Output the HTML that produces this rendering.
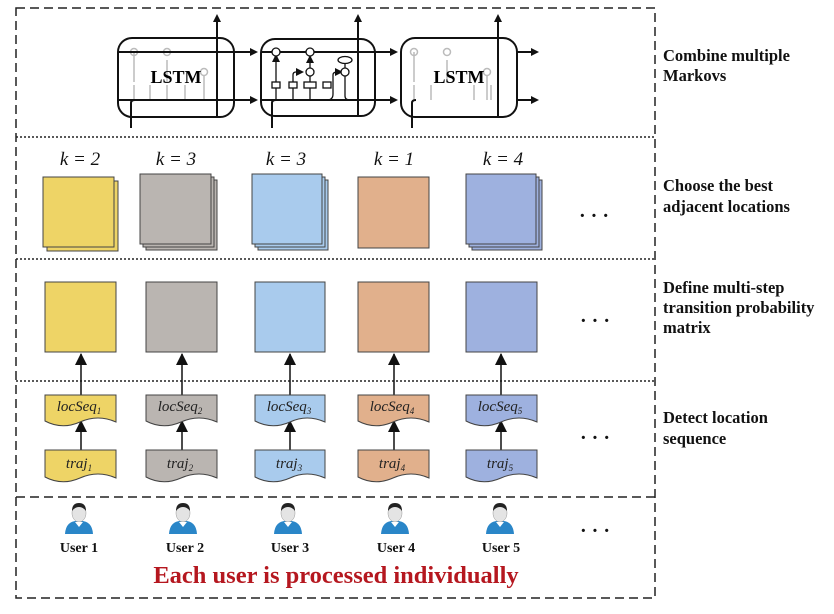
<!DOCTYPE html>
<html><head><meta charset="utf-8"><style>
body{margin:0;background:#fff;}
svg{display:block;}
.lbl{font-family:"Liberation Serif",serif;font-weight:bold;font-size:16.5px;fill:#111;}
.k{font-family:"Liberation Serif",serif;font-style:italic;font-size:19px;fill:#111;}
.it{font-family:"Liberation Serif",serif;font-style:italic;font-size:15px;fill:#222;}
.u{font-family:"Liberation Serif",serif;font-weight:bold;font-size:14px;fill:#111;}
.dots{font-family:"Liberation Serif",serif;font-size:20px;fill:#111;font-weight:bold;}
</style></head><body>
<svg width="834" height="614" viewBox="0 0 834 614" xmlns="http://www.w3.org/2000/svg">
<defs>
<marker id="ar" markerWidth="8" markerHeight="8" refX="6" refY="4" orient="auto" markerUnits="userSpaceOnUse"><path d="M0,0 L8,4 L0,8z" fill="#111"/></marker>
<marker id="ar2" markerWidth="12" markerHeight="14" refX="11" refY="6" orient="auto" markerUnits="userSpaceOnUse"><path d="M0,0 L12,6 L0,12z" fill="#111"/></marker>
<g id="user">
<path d="M-14,12 Q-13,-2 0,-1 Q13,-2 14,12z" fill="#2a86c8"/>
<ellipse cx="0" cy="-9" rx="7" ry="9" fill="#e4e4e4" stroke="#999" stroke-width="0.5"/>
<path d="M-7,-11 Q-7,-19 0,-19 Q7,-19 7,-11 Q4,-15 0,-15 Q-4,-15 -7,-11z" fill="#222"/>
<path d="M-4,0 L0,5 L4,0z" fill="#fff"/>
</g>
</defs>
<path d="M16,8 H655 V598 H16 Z" fill="none" stroke="#222" stroke-width="1.5" stroke-dasharray="9,5"/>
<line x1="16" y1="137" x2="655" y2="137" stroke="#222" stroke-width="1.5" stroke-dasharray="2,2"/>
<line x1="16" y1="259" x2="655" y2="259" stroke="#222" stroke-width="1.5" stroke-dasharray="2,2"/>
<line x1="16" y1="381" x2="655" y2="381" stroke="#222" stroke-width="1.5" stroke-dasharray="2,2"/>
<line x1="16" y1="497" x2="655" y2="497" stroke="#222" stroke-width="1.5" stroke-dasharray="9,5"/>

<g fill="none" stroke="#bbb" stroke-width="1.5">
<line x1="134" y1="100" x2="134" y2="85"/><line x1="150" y1="100" x2="150" y2="85"/><line x1="167" y1="100" x2="167" y2="85"/><line x1="185" y1="100" x2="185" y2="85"/>
<line x1="134" y1="82" x2="134" y2="52"/><line x1="167" y1="82" x2="167" y2="60"/>
<line x1="474" y1="100" x2="474" y2="85"/><line x1="491" y1="100" x2="491" y2="85"/><line x1="431" y1="100" x2="431" y2="85"/><line x1="414" y1="100" x2="414" y2="85"/>
<line x1="414" y1="82" x2="414" y2="52"/><line x1="447" y1="82" x2="447" y2="60"/>
<line x1="204" y1="76" x2="204" y2="100"/><line x1="487" y1="76" x2="487" y2="100"/>
<circle cx="134" cy="52" r="3.5"/><circle cx="167" cy="52" r="3.5"/><circle cx="204" cy="72" r="3.5"/>
<circle cx="414" cy="52" r="3.5"/><circle cx="447" cy="52" r="3.5"/><circle cx="487" cy="72" r="3.5"/>
</g>
<g fill="none" stroke="#111" stroke-width="2">
<rect x="118" y="38" width="116" height="79" rx="14"/>
<rect x="261" y="39" width="114" height="77" rx="14"/>
<rect x="401" y="38" width="116" height="79" rx="14"/>
<line x1="118" y1="52" x2="256" y2="52" marker-end="url(#ar)"/>
<line x1="118" y1="100" x2="256" y2="100" marker-end="url(#ar)"/>
<line x1="261" y1="52" x2="396" y2="52" marker-end="url(#ar)"/>
<line x1="261" y1="100" x2="396" y2="100" marker-end="url(#ar)"/>
<line x1="517" y1="52" x2="537" y2="52" marker-end="url(#ar)"/>
<line x1="517" y1="100" x2="537" y2="100" marker-end="url(#ar)"/>
<line x1="217" y1="117" x2="217" y2="16" marker-end="url(#ar)"/>
<line x1="358" y1="116" x2="358" y2="16" marker-end="url(#ar)"/>
<line x1="498" y1="117" x2="498" y2="16" marker-end="url(#ar)"/>
<path d="M131,128 V103 Q131,100 135,100"/>
<path d="M272,128 V103 Q272,100 276,100"/>
<path d="M412,128 V103 Q412,100 416,100"/>
</g>
<g fill="none" stroke="#111" stroke-width="1.3">
<line x1="276" y1="100" x2="276" y2="56" marker-end="url(#ar)"/>
<path d="M293,100 V75 Q293,72 296,72 H302" marker-end="url(#ar)"/>
<line x1="310" y1="100" x2="310" y2="57" marker-end="url(#ar)"/>
<path d="M327,100 Q333,100 333,94 V75 Q333,72 337,72 H341" marker-end="url(#ar)"/>
<path d="M345,76 V96 Q345,100 350,100 H358"/>
<line x1="345" y1="56" x2="345" y2="68"/>
<circle cx="276" cy="52" r="4" fill="#fff"/><circle cx="310" cy="52" r="4" fill="#fff"/>
<circle cx="310" cy="72" r="4" fill="#fff"/><circle cx="345" cy="72" r="4" fill="#fff"/>
<ellipse cx="345" cy="60" rx="7" ry="3.5" fill="#fff"/>
<rect x="272" y="82" width="8" height="6" fill="#fff"/><rect x="289" y="82" width="8" height="6" fill="#fff"/>
<rect x="304" y="82" width="12" height="6" fill="#fff"/><rect x="323" y="82" width="8" height="6" fill="#fff"/>
</g>
<text x="176" y="83" text-anchor="middle" style="font-family:'Liberation Serif',serif;font-weight:bold;font-size:18px">LSTM</text>
<text x="459" y="83" text-anchor="middle" style="font-family:'Liberation Serif',serif;font-weight:bold;font-size:18px">LSTM</text>

<text class="k" x="80" y="165" text-anchor="middle">k = 2</text>
<text class="k" x="176" y="165" text-anchor="middle">k = 3</text>
<text class="k" x="286" y="165" text-anchor="middle">k = 3</text>
<text class="k" x="394" y="165" text-anchor="middle">k = 1</text>
<text class="k" x="503" y="165" text-anchor="middle">k = 4</text>

<g stroke="#444" stroke-width="1">
<rect x="47" y="181" width="71" height="70" fill="#eed466"/>
<rect x="43" y="177" width="71" height="70" fill="#eed466"/>
<rect x="146" y="180" width="71" height="70" fill="#bab5b1"/>
<rect x="143" y="177" width="71" height="70" fill="#bab5b1"/>
<rect x="140" y="174" width="71" height="70" fill="#bab5b1"/>
<rect x="258" y="180" width="70" height="70" fill="#a9cbed"/>
<rect x="255" y="177" width="70" height="70" fill="#a9cbed"/>
<rect x="252" y="174" width="70" height="70" fill="#a9cbed"/>
<rect x="358" y="177" width="71" height="71" fill="#e1b08c"/>
<rect x="472" y="180" width="70" height="70" fill="#9eb1df"/>
<rect x="469" y="177" width="70" height="70" fill="#9eb1df"/>
<rect x="466" y="174" width="70" height="70" fill="#9eb1df"/>

<rect x="45" y="282" width="71" height="70" fill="#eed466"/>
<rect x="146" y="282" width="71" height="70" fill="#bab5b1"/>
<rect x="255" y="282" width="70" height="70" fill="#a9cbed"/>
<rect x="358" y="282" width="71" height="70" fill="#e1b08c"/>
<rect x="466" y="282" width="71" height="70" fill="#9eb1df"/>
</g>
<text class="dots" x="579" y="222">· · ·</text>
<text class="dots" x="580" y="327">· · ·</text>
<text class="dots" x="580" y="444">· · ·</text>
<text class="dots" x="580" y="537">· · ·</text>

<g stroke="#111" stroke-width="1.5" fill="none">
<line x1="81" y1="395" x2="81" y2="354" marker-end="url(#ar2)"/>
<line x1="182" y1="395" x2="182" y2="354" marker-end="url(#ar2)"/>
<line x1="290" y1="395" x2="290" y2="354" marker-end="url(#ar2)"/>
<line x1="394" y1="395" x2="394" y2="354" marker-end="url(#ar2)"/>
<line x1="501" y1="395" x2="501" y2="354" marker-end="url(#ar2)"/>
<line x1="81" y1="450" x2="81" y2="421" marker-end="url(#ar2)"/>
<line x1="182" y1="450" x2="182" y2="421" marker-end="url(#ar2)"/>
<line x1="290" y1="450" x2="290" y2="421" marker-end="url(#ar2)"/>
<line x1="394" y1="450" x2="394" y2="421" marker-end="url(#ar2)"/>
<line x1="501" y1="450" x2="501" y2="421" marker-end="url(#ar2)"/>
</g>

<g stroke="#444" stroke-width="1">
<path d="M45,395 H116 V422 Q98,414 80,422 Q62,430 45,421Z" fill="#eed466"/>
<path d="M146,395 H217 V422 Q199,414 181,422 Q163,430 146,421Z" fill="#bab5b1"/>
<path d="M255,395 H325 V422 Q307,414 290,422 Q272,430 255,421Z" fill="#a9cbed"/>
<path d="M358,395 H429 V422 Q411,414 393,422 Q375,430 358,421Z" fill="#e1b08c"/>
<path d="M466,395 H537 V422 Q519,414 501,422 Q483,430 466,421Z" fill="#9eb1df"/>
<path d="M45,450 H116 V478 Q98,470 80,478 Q62,486 45,477Z" fill="#eed466"/>
<path d="M146,450 H217 V478 Q199,470 181,478 Q163,486 146,477Z" fill="#bab5b1"/>
<path d="M255,450 H325 V478 Q307,470 290,478 Q272,486 255,477Z" fill="#a9cbed"/>
<path d="M358,450 H429 V478 Q411,470 393,478 Q375,486 358,477Z" fill="#e1b08c"/>
<path d="M466,450 H537 V478 Q519,470 501,478 Q483,486 466,477Z" fill="#9eb1df"/>
</g>
<g class="it" text-anchor="middle">
<text x="79" y="411">locSeq<tspan font-size="9" dy="3">1</tspan></text>
<text x="180" y="411">locSeq<tspan font-size="9" dy="3">2</tspan></text>
<text x="289" y="411">locSeq<tspan font-size="9" dy="3">3</tspan></text>
<text x="392" y="411">locSeq<tspan font-size="9" dy="3">4</tspan></text>
<text x="500" y="411">locSeq<tspan font-size="9" dy="3">5</tspan></text>
<text x="79" y="468">traj<tspan font-size="9" dy="3">1</tspan></text>
<text x="180" y="468">traj<tspan font-size="9" dy="3">2</tspan></text>
<text x="289" y="468">traj<tspan font-size="9" dy="3">3</tspan></text>
<text x="392" y="468">traj<tspan font-size="9" dy="3">4</tspan></text>
<text x="500" y="468">traj<tspan font-size="9" dy="3">5</tspan></text>
</g>

<use href="#user" x="79" y="522"/>
<use href="#user" x="183" y="522"/>
<use href="#user" x="288" y="522"/>
<use href="#user" x="395" y="522"/>
<use href="#user" x="500" y="522"/>
<g class="u" text-anchor="middle">
<text x="79" y="552">User 1</text><text x="185" y="552">User 2</text><text x="290" y="552">User 3</text><text x="396" y="552">User 4</text><text x="501" y="552">User 5</text>
</g>
<text x="336" y="583" text-anchor="middle" style="font-family:'Liberation Serif',serif;font-weight:bold;font-size:24.5px;fill:#b5171f">Each user is processed individually</text>

<g class="lbl">
<text x="663" y="61">Combine multiple</text><text x="663" y="81">Markovs</text>
<text x="663" y="191">Choose the best</text><text x="663" y="212">adjacent locations</text>
<text x="663" y="293">Define multi-step</text><text x="663" y="313">transition probability</text><text x="663" y="333">matrix</text>
<text x="663" y="423">Detect location</text><text x="663" y="444">sequence</text>
</g>
</svg>
</body></html>
